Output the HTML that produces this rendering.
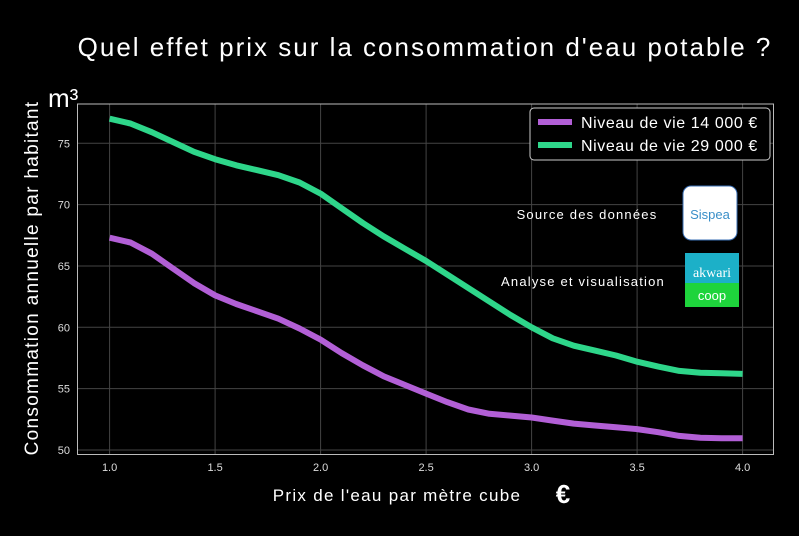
<!DOCTYPE html>
<html><head><meta charset="utf-8"><style>
body{margin:0;background:#000;width:799px;height:531px;overflow:hidden;font-family:"Liberation Sans","DejaVu Sans",sans-serif}
</style></head><body>
<svg id="chart" width="799" height="531" xmlns="http://www.w3.org/2000/svg">
<rect width="799" height="531" fill="#000"/>
<text x="425" y="56" fill="#fff" font-size="26" letter-spacing="2" text-anchor="middle">Quel effet prix sur la consommation d'eau potable ?</text>
<text x="48" y="107" fill="#fff" font-size="26">m³</text>
<g id="grid"></g>
<rect x="77.5" y="104" width="696" height="350.5" fill="none" stroke="#bbb" stroke-width="1"/>
<g id="ticks"></g>
<g id="series"></g>
<text transform="translate(38,278) rotate(-90)" fill="#fff" font-size="19" letter-spacing="1.3" text-anchor="middle">Consommation annuelle par habitant</text>
<text x="397" y="501" fill="#fff" font-size="17" letter-spacing="1.3" text-anchor="middle">Prix de l'eau par mètre cube</text>
<text x="563" y="503" fill="#fff" font-size="26" font-weight="bold" text-anchor="middle">€</text>
<g>
<rect x="530" y="108" width="240" height="52" rx="4" fill="#000" stroke="#ccc" stroke-width="1"/>
<line x1="538" y1="122" x2="572" y2="122" stroke="#b25fd6" stroke-width="6"/>
<text x="581" y="128" fill="#fff" font-size="16" letter-spacing="0.6">Niveau de vie 14 000 €</text>
<line x1="538" y1="145" x2="572" y2="145" stroke="#2ed68a" stroke-width="6"/>
<text x="581" y="151" fill="#fff" font-size="16" letter-spacing="0.6">Niveau de vie 29 000 €</text>
</g>
<text x="587" y="219" fill="#fff" font-size="13" letter-spacing="1.2" text-anchor="middle">Source des données</text>
<text x="583" y="286" fill="#fff" font-size="13" letter-spacing="1.2" text-anchor="middle">Analyse et visualisation</text>
<g>
<rect x="683" y="186" width="54" height="54" rx="8" fill="#fff" stroke="#3a6fb5"/>
<text x="710" y="219" fill="#3a8fc8" font-size="13" text-anchor="middle">Sispea</text>
</g>
<g>
<rect x="685" y="253" width="54" height="54" fill="#1cb0c8"/>
<rect x="685" y="283" width="54" height="24" fill="#1ed43c"/>
<text x="712" y="277" fill="#fff" font-size="14" text-anchor="middle" font-family="Liberation Serif,serif">akwari</text>
<text x="712" y="300" fill="#fff" font-size="13" text-anchor="middle">coop</text>
</g>
</svg>
<script>
const xValues=[1.0,1.1,1.2,1.3,1.4,1.5,1.6,1.7,1.8,1.9,2.0,2.1,2.2,2.3,2.4,2.5,2.6,2.7,2.8,2.9,3.0,3.1,3.2,3.3,3.4,3.5,3.6,3.7,3.8,3.9,4.0];
const series29000=[77,76.6,75.9,75.1,74.3,73.7,73.2,72.8,72.4,71.8,70.9,69.7,68.5,67.4,66.4,65.4,64.3,63.2,62.1,61.0,60.0,59.1,58.5,58.1,57.7,57.2,56.8,56.45,56.3,56.25,56.2];
const series14000=[67.3,66.9,66.0,64.8,63.6,62.6,61.9,61.3,60.7,59.9,59.0,57.9,56.9,56.0,55.3,54.6,53.9,53.3,52.95,52.8,52.65,52.4,52.15,52.0,51.85,51.7,51.45,51.15,51.0,50.95,50.95];
const xTicks=[1.0,1.5,2.0,2.5,3.0,3.5,4.0];
const yTicks=[50,55,60,65,70,75];
const NS="http://www.w3.org/2000/svg";
function sx(v){return 109.6+(v-1)*211;}
function sy(v){return 450-(v-50)*12.27;}
function mk(t,a,p){const e=document.createElementNS(NS,t);for(const k in a)e.setAttribute(k,a[k]);p.appendChild(e);return e;}
const grid=document.getElementById('grid'),ticks=document.getElementById('ticks'),ser=document.getElementById('series');
xTicks.forEach(v=>{
 const l=mk('line',{x1:sx(v),x2:sx(v),y1:104,y2:454.5,stroke:'#444','stroke-width':1},grid);
 
 
 const t=mk('text',{x:sx(v),y:471,fill:'#ddd','font-size':11,'text-anchor':'middle'},ticks);
 t.textContent=v.toFixed(1);
 
 
});
yTicks.forEach(v=>{
 const l=mk('line',{x1:77.5,x2:773.5,y1:sy(v),y2:sy(v),stroke:'#444','stroke-width':1},grid);
 
 
 const t=mk('text',{x:70,y:sy(v)+4,fill:'#ddd','font-size':11,'text-anchor':'end'},ticks);
 t.textContent=v;
 
 
});
function line(data,color,name){
 const pts=xValues.map((x,i)=>sx(x).toFixed(1)+','+sy(data[i]).toFixed(1)).join(' ');
 const p=mk('polyline',{points:pts,fill:'none',stroke:color,'stroke-width':6,'stroke-linejoin':'round'},ser);
 
 
}
line(series29000,'#2ed68a','line-29000');
line(series14000,'#b25fd6','line-14000');
</script>
</body></html>
